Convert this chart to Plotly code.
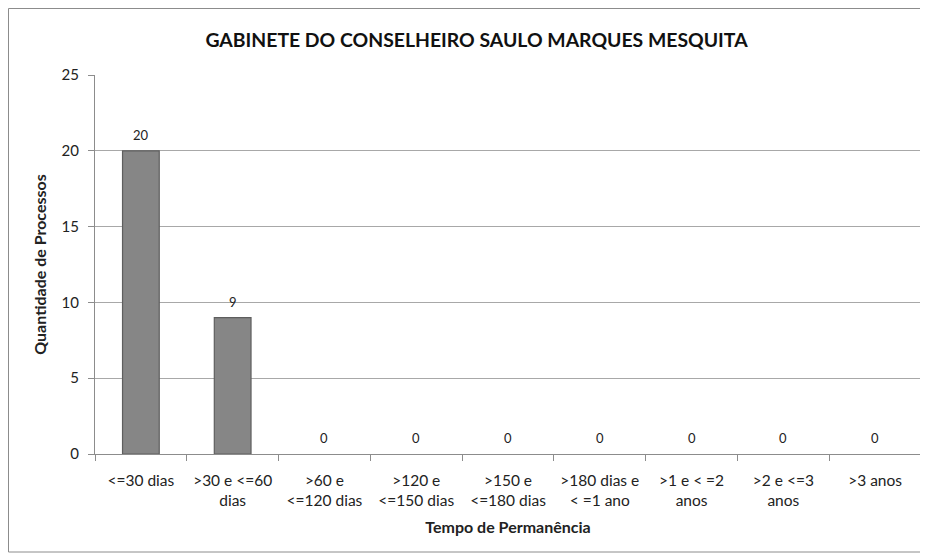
import plotly.graph_objects as go

categories = ["<=30 dias", ">30 e <=60<br>dias", ">60 e<br><=120 dias", ">120 e<br><=150 dias",
              ">150 e<br><=180 dias", ">180 dias e<br>< =1 ano", ">1 e < =2<br>anos",
              ">2 e <=3<br>anos", ">3 anos"]
values = [20, 9, 0, 0, 0, 0, 0, 0, 0]
y_ticks = [0, 5, 10, 15, 20, 25]

FONT = "Lato, Roboto, sans-serif"

# page body has an 8px margin, so the figure is drawn 8px smaller and shifted
OFF = 8
W, H = 928 - OFF, 556 - OFF
L, R, T, B = 87, 7, 67, 102
pw, ph = W - L - R, H - T - B

fig = go.Figure(go.Bar(
    x=categories, y=values,
    marker=dict(color="#868686",
                line=dict(color="#5e5e5e", width=[1.2 if v > 0 else 0 for v in values])),
    cliponaxis=False, width=0.4,
))

for c, v in zip(categories, values):
    fig.add_annotation(x=c, y=v, text=str(v), showarrow=False, yanchor="bottom", yshift=6,
                       font=dict(size=13, color="#222", family=FONT))

fig.update_layout(
    width=W, height=H,
    margin=dict(l=L, r=R, t=T, b=B),
    paper_bgcolor="white", plot_bgcolor="white",
    font=dict(family=FONT, color="#222"),
    title=dict(text="<b>GABINETE DO CONSELHEIRO SAULO MARQUES MESQUITA</b>",
               x=468.5 / W, xanchor="center", y=1 - 32 / H, yanchor="middle",
               font=dict(size=19.4, family=FONT, color="#111")),
    showlegend=False,
)
fig.update_xaxes(
    type="category", tickson="boundaries", ticks="outside", ticklen=6, tickcolor="#8c8c8c",
    showline=True, linecolor="#8c8c8c", linewidth=1, ticklabelstandoff=12,
    tickfont=dict(size=15.5, family=FONT, color="#222"),
    title=dict(text="<b>Tempo de Permanência</b>", font=dict(size=16, family=FONT), standoff=14),
)
fig.update_yaxes(
    range=[0, 25], tickvals=y_ticks, ticks="outside", ticklen=6, tickcolor="#8c8c8c",
    showline=True, linecolor="#8c8c8c", linewidth=1, ticklabelstandoff=6,
    showgrid=True, gridcolor="#a8a8a8", gridwidth=1,
    tickfont=dict(size=15, family=FONT, color="#222"),
    title=dict(text="<b>Quantidade de Processos</b>", font=dict(size=16, family=FONT), standoff=10),
)
fig.add_shape(type="rect", xref="paper", yref="paper",
              x0=(0.5 - L) / pw, x1=(914 - L) / pw,
              y0=1 - (544 - T) / ph, y1=1 - (0.5 - T) / ph,
              line=dict(color="#8c8c8c", width=1), fillcolor="rgba(0,0,0,0)", layer="below")

fig.write_html("out.html")
